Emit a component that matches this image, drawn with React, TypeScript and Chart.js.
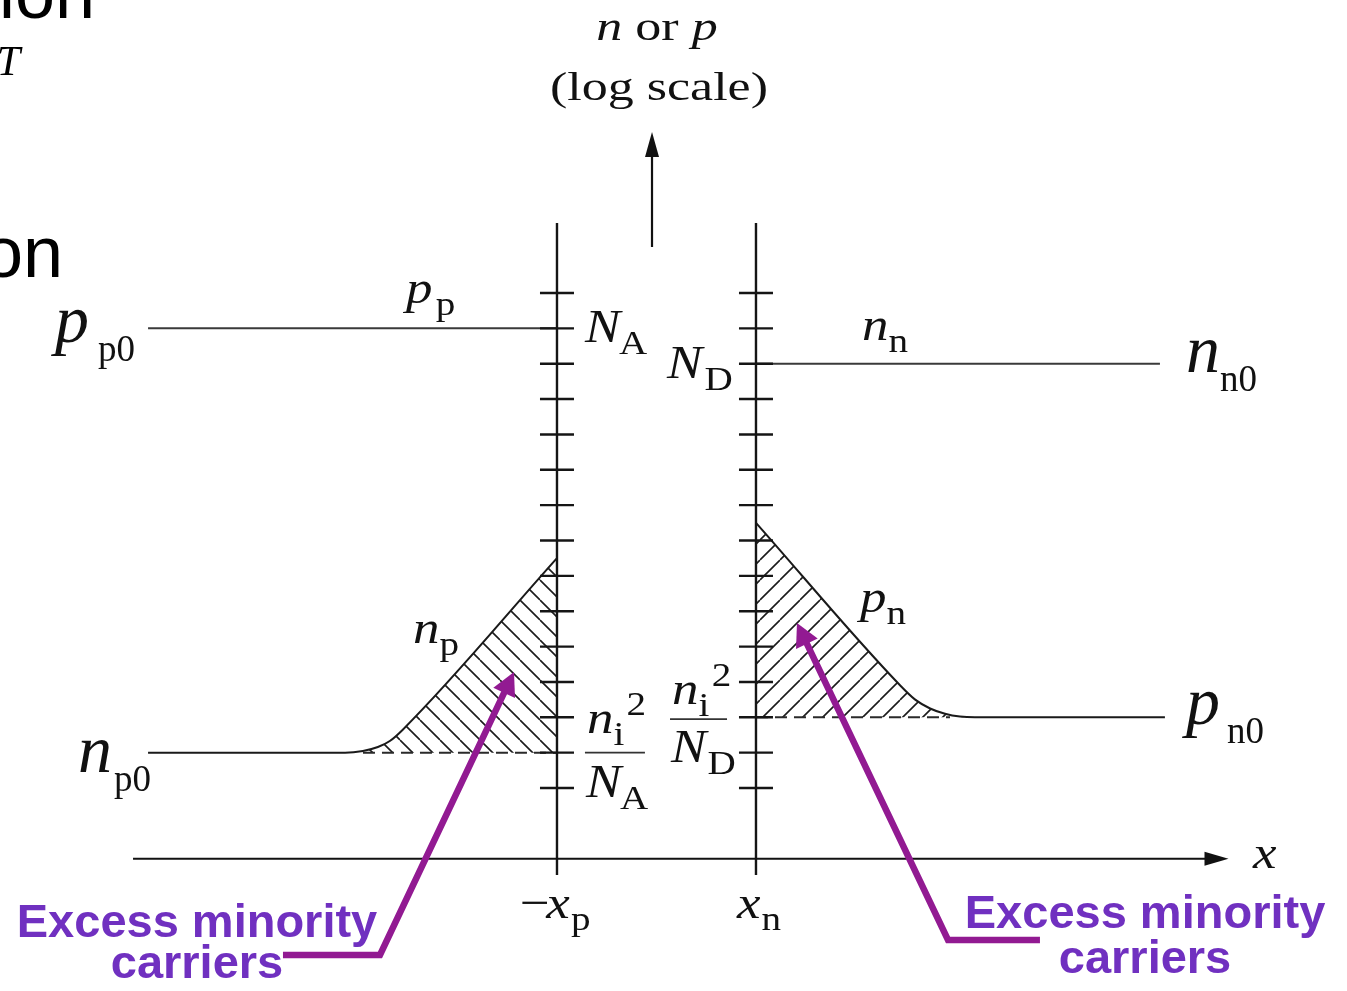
import React, { useEffect, useRef } from "react";
import { Chart, registerables } from "chart.js";

Chart.register(...registerables);

// x: position across the p-n junction (depletion edges at -xp = -1, xn = +1)
// e: log10 of the carrier concentration; ni = 1e10, NA = 1e16, ND = 1e15

const VIEW_X = [-6.598, 6.94];
const VIEW_E = [-2.74, 25.286];

// majority carriers
const holesPX = [-5.11, -1];
const holesPExp = [16, 16];
const electronsNX = [1, 5.06];
const electronsNExp = [15, 15];

// minority carriers under forward bias
const electronsPX = [-5.11, -3.13, -2.95, -2.8, -2.68, -2.55, -1];
const electronsPExp = [4, 4, 4.05, 4.16, 4.33, 4.65, 9.5];
const holesNX = [1, 2.45, 2.6, 2.75, 2.9, 3.05, 3.2, 5.11];
const holesNExp = [10.5, 5.9, 5.5, 5.25, 5.1, 5.02, 5, 5];

// equilibrium minority levels ni^2/NA and ni^2/ND
const eqPX = [-2.95, -1];
const eqPExp = 4;
const eqNX = [1, 2.95];
const eqNExp = 5;

// junction edge axes and their decade ticks
const edgeX = [-1, 1];
const edgeExpRange = [18.98, 0.54];
const decadeExps = [3, 4, 5, 6, 7, 8, 9, 10, 11, 12, 13, 14, 15, 16, 17];

const SERIF = "'Liberation Serif', 'Times New Roman', serif";
const SANS = "'Liberation Sans', Arial, sans-serif";
const PURPLE_TEXT = "#7030c0";
const PURPLE_LINE = "#921a92";

type Part = { t: string; it?: boolean; pos?: "sub" | "sup"; dx?: number };
type Style = { size: number; small: number; subDy: number; supDy: number; sx: number };
type MathLabel = { x: number; e: number; st: Style; parts: Part[]; align?: "left" | "center" };
type Fraction = { x0: number; x1: number; e: number; num: Part[]; den: Part[]; numDy: number; denDy: number; st: Style };
type Arrow = { path: number[][]; color: string; width: number; len: number; half: number };

const BOOK: Style = { size: 46, small: 34, subDy: 12, supDy: 18, sx: 1.15 };
const TOP: Style = { size: 40, small: 30, subDy: 10, supDy: 15, sx: 1.3 };
const BIG: Style = { size: 68, small: 37, subDy: 19, supDy: 0, sx: 1 };

const mathLabels: MathLabel[] = [
  { x: 0.005, e: 24.155, st: TOP, align: "center", parts: [{ t: "n", it: true }, { t: " or " }, { t: "p", it: true }] },
  { x: 0.025, e: 22.458, st: TOP, align: "center", parts: [{ t: "(log scale)" }] },
  { x: -6.045, e: 15.61, st: BIG, parts: [{ t: "p", it: true }, { t: "p0", pos: "sub", dx: 9 }] },
  { x: 5.322, e: 14.766, st: BIG, parts: [{ t: "n", it: true }, { t: "n0", pos: "sub", dx: 0 }] },
  { x: -5.814, e: 3.453, st: BIG, parts: [{ t: "n", it: true }, { t: "p0", pos: "sub", dx: 2 }] },
  { x: 5.322, e: 4.811, st: BIG, parts: [{ t: "p", it: true }, { t: "n0", pos: "sub", dx: 7 }] },
  { x: -2.518, e: 16.717, st: BOOK, parts: [{ t: "p", it: true }, { t: "p", pos: "sub", dx: 3 }] },
  { x: 2.065, e: 15.671, st: BOOK, parts: [{ t: "n", it: true }, { t: "n", pos: "sub" }] },
  { x: -2.447, e: 7.102, st: BOOK, parts: [{ t: "n", it: true }, { t: "p", pos: "sub" }] },
  { x: 2.045, e: 7.979, st: BOOK, parts: [{ t: "p", it: true }, { t: "n", pos: "sub" }] },
  { x: -0.719, e: 15.614, st: BOOK, parts: [{ t: "N", it: true }, { t: "A", pos: "sub", dx: -1 }] },
  { x: 0.106, e: 14.596, st: BOOK, parts: [{ t: "N", it: true }, { t: "D", pos: "sub", dx: 2 }] },
  { x: -1.372, e: -0.675, st: BOOK, parts: [{ t: "\u2212" }, { t: "x", it: true, dx: -3 }, { t: "p", pos: "sub", dx: 1 }] },
  { x: 0.809, e: -0.675, st: BOOK, parts: [{ t: "x", it: true }, { t: "n", pos: "sub", dx: 1 }] },
  { x: 5.995, e: 0.739, st: BOOK, parts: [{ t: "x", it: true }] },
];

const niSquared: Part[] = [{ t: "n", it: true }, { t: "i", pos: "sub" }, { t: "2", pos: "sup", dx: 2 }];

const fractions: Fraction[] = [
  { x0: -0.719, x1: -0.116, e: 4, num: niSquared, den: [{ t: "N", it: true }, { t: "A", pos: "sub", dx: -1 }], numDy: 20, denDy: 44, st: BOOK },
  { x0: 0.136, x1: 0.709, e: 4.95, num: niSquared, den: [{ t: "N", it: true }, { t: "D", pos: "sub", dx: 1 }], numDy: 15, denDy: 43, st: BOOK },
];

const calloutText = ["Excess minority", "carriers"];
const callouts = [
  { x: -4.618, e: [-1.213, -2.372] },
  { x: 4.91, e: [-0.958, -2.231] },
];

const slideFragments = [
  { t: "tion", x: -5.643, e: 24.777, font: `72px ${SANS}` },
  { t: "T", x: -6.397, e: 23.165, font: `italic 42px ${SERIF}` },
  { t: "on", x: -5.965, e: 17.452, font: `72px ${SANS}` },
];

const arrows: Arrow[] = [
  { path: [[-5.261, 1], [5.749, 1]], color: "#111", width: 2.2, len: 24, half: 7 },
  { path: [[-0.045, 18.3], [-0.045, 21.553]], color: "#111", width: 2.2, len: 25, half: 7 },
  { path: [[-3.754, -1.722], [-2.779, -1.722], [-1.432, 6.282]], color: PURPLE_LINE, width: 6.5, len: 23, half: 12 },
  { path: [[3.854, -1.297], [2.93, -1.297], [1.412, 7.667]], color: PURPLE_LINE, width: 6.5, len: 23, half: 12 },
];

const pts = (xs: number[], es: number[] | number) =>
  xs.map((x, i) => ({ x, y: Math.pow(10, Array.isArray(es) ? es[i] : es) }));

function hatch(forward: boolean): CanvasPattern | string {
  const P = 20;
  const c = document.createElement("canvas");
  c.width = P;
  c.height = P;
  const g = c.getContext("2d");
  if (!g) return "rgba(0,0,0,0.2)";
  g.strokeStyle = "#1c1c1c";
  g.lineWidth = 1.6;
  g.beginPath();
  for (let k = -1; k <= 1; k++) {
    if (forward) {
      g.moveTo(k * P, P);
      g.lineTo(k * P + P, 0);
    } else {
      g.moveTo(k * P, 0);
      g.lineTo(k * P + P, P);
    }
  }
  g.stroke();
  return g.createPattern(c, "repeat") || "rgba(0,0,0,0.2)";
}

function runParts(ctx: CanvasRenderingContext2D, parts: Part[], st: Style, draw: boolean): number {
  let cx = 0;
  for (const p of parts) {
    cx += p.dx ?? 0;
    const size = p.pos ? st.small : st.size;
    ctx.font = `${p.it ? "italic " : ""}${size}px ${SERIF}`;
    const dy = p.pos === "sub" ? st.subDy : p.pos === "sup" ? -st.supDy : 0;
    if (draw) ctx.fillText(p.t, cx, dy);
    cx += ctx.measureText(p.t).width;
  }
  return cx;
}

const diagramText = {
  id: "diagramText",
  afterDatasetsDraw(chart: Chart) {
    const ctx = chart.ctx;
    const sx = chart.scales.x;
    const sy = chart.scales.y;
    const X = (v: number) => sx.getPixelForValue(v);
    const Y = (e: number) => sy.getPixelForValue(Math.pow(10, e));

    ctx.save();
    // arrows
    for (const a of arrows) {
      const p = a.path.map(([x, e]) => [X(x), Y(e)]);
      const tip = p[p.length - 1];
      const prev = p[p.length - 2];
      const dx = tip[0] - prev[0];
      const dy = tip[1] - prev[1];
      const L = Math.hypot(dx, dy);
      const ux = dx / L;
      const uy = dy / L;
      const bx = tip[0] - ux * a.len;
      const by = tip[1] - uy * a.len;
      ctx.strokeStyle = a.color;
      ctx.lineWidth = a.width;
      ctx.lineJoin = "miter";
      ctx.lineCap = "butt";
      ctx.beginPath();
      ctx.moveTo(p[0][0], p[0][1]);
      for (let i = 1; i < p.length - 1; i++) ctx.lineTo(p[i][0], p[i][1]);
      ctx.lineTo(bx + ux * 2, by + uy * 2);
      ctx.stroke();
      ctx.fillStyle = a.color;
      ctx.beginPath();
      ctx.moveTo(tip[0], tip[1]);
      ctx.lineTo(bx - uy * a.half, by + ux * a.half);
      ctx.lineTo(bx + uy * a.half, by - ux * a.half);
      ctx.closePath();
      ctx.fill();
    }

    ctx.fillStyle = "#111";
    ctx.textBaseline = "alphabetic";
    ctx.textAlign = "left";
    for (const l of mathLabels) {
      ctx.save();
      ctx.translate(X(l.x), Y(l.e));
      ctx.scale(l.st.sx, 1);
      if (l.align === "center") {
        const w = runParts(ctx, l.parts, l.st, false);
        ctx.translate(-w / 2, 0);
      }
      runParts(ctx, l.parts, l.st, true);
      ctx.restore();
    }

    for (const f of fractions) {
      const x0 = X(f.x0);
      const x1 = X(f.x1);
      const yb = Y(f.e);
      ctx.strokeStyle = "#333";
      ctx.lineWidth = 1.6;
      ctx.beginPath();
      ctx.moveTo(x0, yb);
      ctx.lineTo(x1, yb);
      ctx.stroke();
      ctx.save();
      ctx.translate(x0 + 2, yb - f.numDy);
      ctx.scale(f.st.sx, 1);
      runParts(ctx, f.num, f.st, true);
      ctx.restore();
      ctx.save();
      ctx.translate(x0 + 1, yb + f.denDy);
      ctx.scale(f.st.sx, 1);
      runParts(ctx, f.den, f.st, true);
      ctx.restore();
    }

    ctx.textAlign = "center";
    ctx.fillStyle = PURPLE_TEXT;
    ctx.font = `bold 47px ${SANS}`;
    for (const c of callouts) {
      calloutText.forEach((t, i) => ctx.fillText(t, X(c.x), Y(c.e[i])));
    }

    ctx.textAlign = "right";
    ctx.fillStyle = "#000";
    for (const s of slideFragments) {
      ctx.font = s.font;
      ctx.fillText(s.t, X(s.x), Y(s.e));
    }
    ctx.restore();
  },
};

export default function App() {
  const ref = useRef<HTMLCanvasElement | null>(null);

  useEffect(() => {
    const canvas = ref.current;
    if (!canvas) return;
    const line = (data: { x: number; y: number }[], extra: Record<string, unknown> = {}) => ({
      data,
      borderColor: "#1a1a1a",
      borderWidth: 2,
      pointRadius: 0,
      fill: false,
      ...extra,
    });

    const tickPoints = decadeExps.flatMap((e) => edgeX.map((x) => ({ x, y: Math.pow(10, e) })));

    const chart = new Chart(canvas, {
      type: "line",
      data: {
        datasets: [
          {
            data: tickPoints,
            showLine: false,
            pointStyle: "line",
            pointRadius: 17,
            pointBorderWidth: 2.4,
            pointBorderColor: "#151515",
            borderColor: "#151515",
          },
          line(pts([edgeX[0], edgeX[0]], edgeExpRange), { borderWidth: 2.4, borderColor: "#151515" }),
          line(pts([edgeX[1], edgeX[1]], edgeExpRange), { borderWidth: 2.4, borderColor: "#151515" }),
          line(pts(holesPX, holesPExp), { borderColor: "#3a3a3a" }),
          line(pts(electronsNX, electronsNExp), { borderColor: "#3a3a3a" }),
          line(pts(eqPX, eqPExp), { borderDash: [12, 7], borderColor: "#2a2a2a" }),
          line(pts(eqNX, eqNExp), { borderDash: [12, 7], borderColor: "#2a2a2a" }),
          line(pts(electronsPX, electronsPExp), {
            cubicInterpolationMode: "monotone",
            fill: { value: Math.pow(10, eqPExp) },
            backgroundColor: hatch(false),
          }),
          line(pts(holesNX, holesNExp), {
            cubicInterpolationMode: "monotone",
            fill: { value: Math.pow(10, eqNExp) },
            backgroundColor: hatch(true),
          }),
        ] as any,
      },
      options: {
        responsive: false,
        animation: false,
        devicePixelRatio: 1,
        events: [],
        layout: { padding: 0, autoPadding: false },
        scales: {
          x: { type: "linear", min: VIEW_X[0], max: VIEW_X[1], display: false },
          y: { type: "logarithmic", min: Math.pow(10, VIEW_E[0]), max: Math.pow(10, VIEW_E[1]), display: false },
        },
        plugins: {
          legend: { display: false },
          tooltip: { enabled: false },
        },
      },
      plugins: [diagramText as any],
    });
    return () => chart.destroy();
  }, []);

  return (
    <div style={{ position: "fixed", left: 0, top: 0, width: 1347, height: 991, background: "#fff" }}>
      <canvas ref={ref} width={1347} height={991} style={{ display: "block" }} />
    </div>
  );
}
